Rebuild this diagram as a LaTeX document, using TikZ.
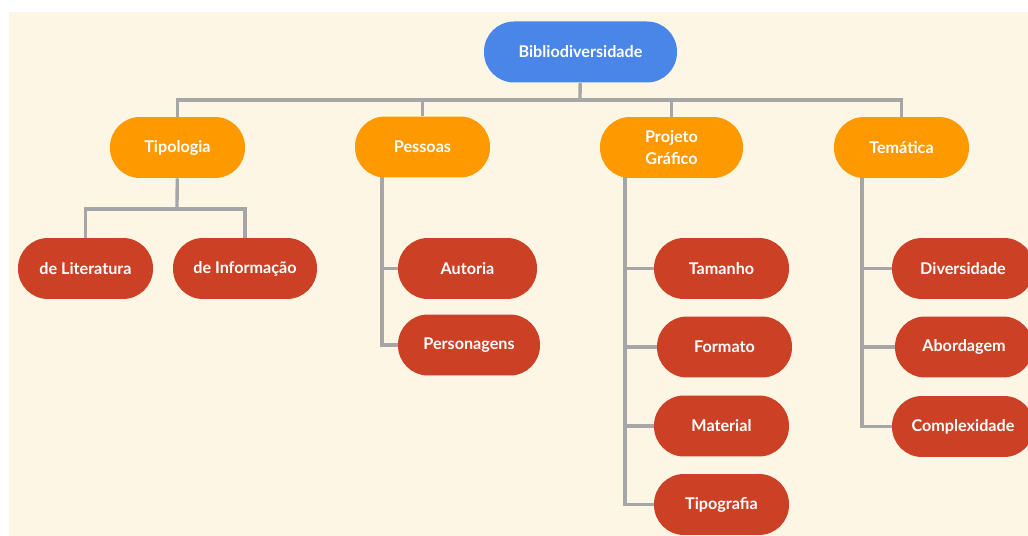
\documentclass[tikz,border=0pt]{standalone}
\usepackage{fontspec}
\setmainfont{Lato}
\usepackage{tikz}
\usetikzlibrary{backgrounds,calc}
\definecolor{rootblue}{RGB}{74,134,232}
\definecolor{branch}{RGB}{255,153,0}
\definecolor{leaf}{RGB}{204,65,37}
\definecolor{paper}{RGB}{253,246,228}
\definecolor{wire}{RGB}{166,166,166}

\begin{document}
\begin{tikzpicture}[
  x=0.02cm, y=-0.02cm,
  font=\fontsize{9.2}{12.5}\selectfont\bfseries,
  pill/.style={rounded corners=0.6cm, minimum height=1.22cm, minimum width=2.7cm, align=center, text=white, inner sep=2pt},
  topic/.style={pill, fill=branch},
  item/.style={pill, fill=leaf},
  link/.style={wire, line width=1.9pt}
]
\useasboundingbox (0,0) rectangle (1028,536);

% root and the four branches
\node[pill, fill=rootblue, minimum width=3.86cm] (root) at (580.5,52) {Bibliodiversidade};
\node[topic] (tip) at (177.5,147.5) {Tipologia};
\node[topic] (pes) at (422.5,147) {Pessoas};
\node[topic, minimum width=2.86cm] (pro) at (671.5,147.5) {Projeto\\Gráfico};
\node[topic] (tem) at (901.5,147.5) {Temática};

% Tipologia
\node[item] (lit) at (85.5,268.5) {de Literatura};
\node[item, minimum width=2.88cm] (inf) at (245,268.5) {de Informação};

% Pessoas
\node[item, minimum width=2.78cm] (aut) at (467.5,268.5) {Autoria};
\node[item, minimum width=2.84cm] (per) at (469,345) {Personagens};

% Projeto Grafico
\node[item] (tam) at (721.5,268.5) {Tamanho};
\node[item] (for) at (724.5,347) {Formato};
\node[item] (mat) at (721.5,426) {Material};
\node[item] (tpg) at (721.5,504.5) {Tipografia};

% Tematica
\node[item, minimum width=2.84cm] (div) at (963,268.5) {Diversidade};
\node[item, minimum width=2.76cm] (abo) at (964,347) {Abordagem};
\node[item, minimum width=2.84cm] (com) at (963,426.5) {Complexidade};

\coordinate (bus) at (580,100);
\coordinate (tipbus) at (177,209);
\coordinate (pesA) at ([xshift=-0.81cm]pes.center);
\coordinate (proA) at ([xshift=-0.93cm]pro.center);
\coordinate (temA) at ([xshift=-0.79cm]tem.center);

\begin{scope}[on background layer]
\fill[paper] (9,12) rectangle (1028,536);
\draw[link] (root) -- (bus);
\foreach \n in {tip,pes,pro,tem}
  \draw[link] (bus) -| (\n);
\draw[link] (tip) -- (tipbus);
\draw[link] (tipbus) -| (lit);
\draw[link] (tipbus) -| (inf);
\foreach \n in {aut,per}
  \draw[link] (pesA) |- (\n.west);
\foreach \n in {tam,for,mat,tpg}
  \draw[link] (proA) |- (\n.west);
\foreach \n in {div,abo,com}
  \draw[link] (temA) |- (\n.west);
\end{scope}
\end{tikzpicture}
\end{document}
